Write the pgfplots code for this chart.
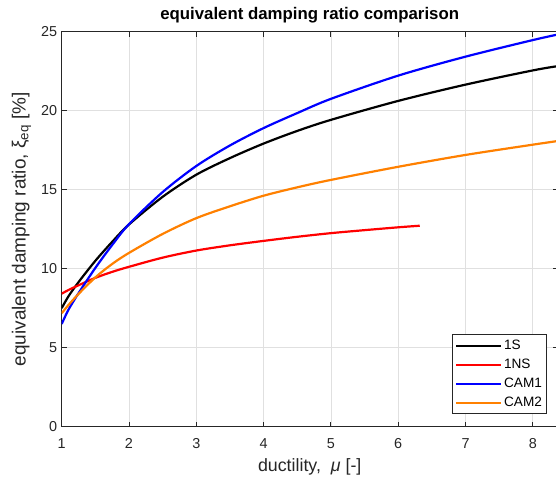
\documentclass[border=0pt]{standalone}
\usepackage{fontspec}
\setmainfont{Liberation Sans}
\usepackage{pgfplots}
\pgfplotsset{compat=1.18}

\definecolor{axgray}{RGB}{38,38,38}
\definecolor{gridgray}{RGB}{224,224,224}
\definecolor{camorange}{RGB}{255,128,0}

\begin{document}
\begin{tikzpicture}[x=1pt,y=1pt]
\path[use as bounding box] (0,0) rectangle (556,477);
\begin{axis}[
  at={(61.7pt,50.3pt)}, anchor=south west,
  width=496pt, height=395pt, scale only axis,
  xmin=1, xmax=8.37, ymin=0, ymax=25,
  xtick={1,...,8}, ytick={0,5,...,25},
  grid=major,
  major grid style={gridgray, line width=0.8pt},
  axis line style={axgray, line width=0.9pt},
  tick style={axgray, line width=0.9pt},
  tick align=inside, major tick length=5pt,
  /pgf/number format/assume math mode=true,
  ticklabel style={font=\fontsize{14.4}{16}\selectfont, text=axgray},
  xticklabel style={yshift=-8pt},
  yticklabel style={xshift=-1pt},
  xlabel={ductility,\ \ \textit{μ} [-]},
  ylabel={equivalent damping ratio, ξ\textsubscript{eq} [\%]},
  xlabel style={font=\fontsize{17.8}{20}\selectfont, text=axgray,
    at={(axis description cs:0.5,0)}, anchor=base, yshift=-45pt},
  ylabel style={font=\fontsize{19}{21}\selectfont, text=axgray,
    at={(axis description cs:-0.081,0.5)}, anchor=center},
  title={equivalent damping ratio comparison},
  title style={font=\bfseries\fontsize{16.8}{19}\selectfont, text=black, yshift=-1pt},
  legend style={at={(0.979,0.0314)}, anchor=south east,
    draw=axgray, line width=0.8pt, fill=white,
    font=\fontsize{13.6}{16}\selectfont, text=black,
    inner xsep=3pt, inner ysep=1.5pt, row sep=0pt,
    nodes={inner ysep=2.75pt, text height=10pt, text depth=3.5pt}},
  legend cell align=left,
  legend image code/.code={\draw[#1] (0pt,0pt) -- (45pt,0pt);},
  every axis plot/.append style={line width=2.2pt},
]

% 1S
\addplot[black, smooth] coordinates {
(1.00,7.50) (1.10,8.25) (1.25,9.15) (1.50,10.50) (1.75,11.70) (2.00,12.80)
(2.50,14.55) (3.00,15.95) (3.50,17.00) (4.00,17.92) (4.50,18.72) (5.00,19.42)
(6.00,20.62) (7.00,21.65) (8.00,22.55) (8.37,22.82)};
\addlegendentry{1S}

% 1NS
\addplot[red, smooth] coordinates {
(1.00,8.42) (1.10,8.65) (1.25,8.95) (1.50,9.42) (1.75,9.80) (2.00,10.12)
(2.50,10.70) (3.00,11.15) (3.50,11.48) (4.00,11.76) (4.50,12.02) (5.00,12.25)
(5.50,12.44) (6.00,12.62) (6.32,12.72)};
\addlegendentry{1NS}

% CAM1
\addplot[blue, smooth] coordinates {
(1.00,6.50) (1.10,7.40) (1.25,8.45) (1.50,10.05) (1.75,11.50) (2.00,12.82)
(2.50,14.85) (3.00,16.50) (3.50,17.80) (4.00,18.90) (4.50,19.85) (5.00,20.75)
(6.00,22.22) (7.00,23.42) (8.00,24.47) (8.37,24.82)};
\addlegendentry{CAM1}

% CAM2
\addplot[camorange, smooth] coordinates {
(1.00,7.18) (1.10,7.70) (1.25,8.40) (1.50,9.45) (1.75,10.30) (2.00,11.00)
(2.50,12.20) (3.00,13.20) (3.50,13.95) (4.00,14.62) (4.50,15.15) (5.00,15.62)
(6.00,16.45) (7.00,17.20) (8.00,17.85) (8.37,18.08)};
\addlegendentry{CAM2}

\end{axis}
\end{tikzpicture}
\end{document}
